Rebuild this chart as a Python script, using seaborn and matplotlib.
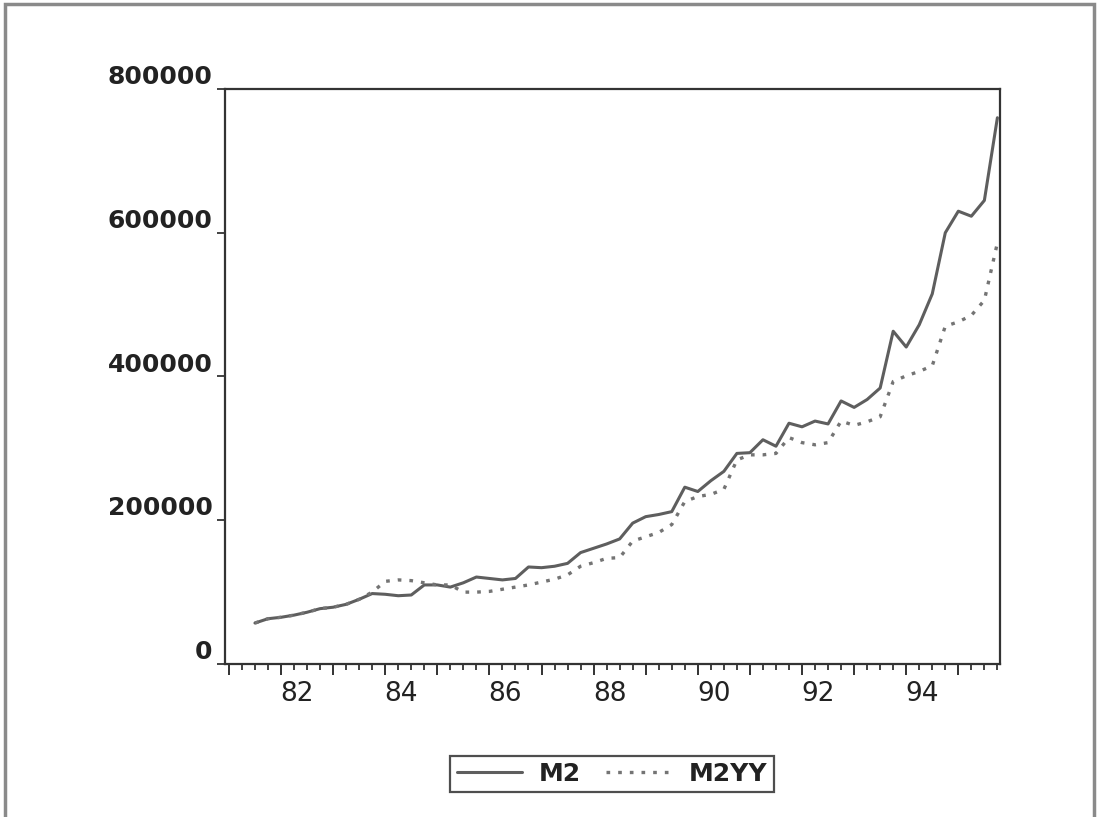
import numpy as np
import pandas as pd
import matplotlib
matplotlib.use("Agg")
import matplotlib.pyplot as plt
import matplotlib.transforms as mtransforms
from matplotlib.patches import Rectangle
from matplotlib.ticker import MultipleLocator
import seaborn as sns

# quarterly observations, 1981Q3 .. 1995Q4
start_year = 1981
start_q = 3
m2 = [57000, 63000, 65000, 68000, 72000, 77000, 79000, 83000,
      90000, 98000, 97000, 95000, 96000, 110000, 110000, 107000,
      113000, 121000, 119000, 117000, 119000, 135000, 134000, 136000,
      140000, 155000, 161000, 167000, 174000, 196000, 205000, 208000,
      212000, 246000, 240000, 255000, 268000, 293000, 294000, 312000,
      303000, 335000, 330000, 338000, 334000, 366000, 357000, 368000,
      384000, 463000, 441000, 472000, 515000, 600000, 630000, 623000,
      645000, 760000]
m2yy = [57000, 63000, 65000, 68000, 72000, 77000, 79000, 83000,
        90000, 100000, 115000, 117000, 116000, 113000, 110000, 110000,
        100000, 100000, 101000, 104000, 107000, 110000, 114000, 118000,
        124000, 136000, 141000, 147000, 148000, 171000, 177000, 183000,
        194000, 226000, 233000, 236000, 243000, 284000, 291000, 291000,
        293000, 315000, 308000, 305000, 308000, 338000, 332000, 337000,
        344000, 393000, 401000, 407000, 415000, 470000, 476000, 485000,
        506000, 586000]
year_labels = ["82", "84", "86", "88", "90", "92", "94"]
y_ticks = [0, 200000, 400000, 600000, 800000]

n = len(m2)
t = [start_year + (start_q - 1 + i) / 4.0 for i in range(n)]
df = pd.DataFrame({"t": t, "M2": m2, "M2YY": m2yy})

sns.set_style("ticks")
plt.rcParams["font.family"] = ["DejaVu Sans"]

fig = plt.figure(figsize=(10.99, 8.17), dpi=100)
ax = fig.add_axes([225/1099, 1 - 664/817, 775/1099, 575/817])

sns.lineplot(data=df, x="t", y="M2", ax=ax, color="#5e5e5e", linewidth=2.2, label="M2")
sns.lineplot(data=df, x="t", y="M2YY", ax=ax, color="#747474", linewidth=2.4,
             linestyle=(0, (1.1, 2.4)), label="M2YY")

ax.set_xlim(1980.925, 1995.80)
ax.set_ylim(0, 800000)
ax.set_xlabel("")
ax.set_ylabel("")

# year ticks (long) and quarter ticks (short)
years = list(range(1981, 1996))
ax.set_xticks(years)
ax.set_xticklabels([str(y)[2:] if str(y)[2:] in year_labels else "" for y in years], fontsize=19)
ax.xaxis.set_minor_locator(MultipleLocator(0.25))
ax.tick_params(axis="x", which="major", length=8, width=1.3, direction="out", pad=4, colors="#222222")
ax.tick_params(axis="x", which="minor", length=4, width=1.2, direction="out", colors="#222222")
shift = mtransforms.ScaledTranslation(0.16, 0, fig.dpi_scale_trans)
for lab in ax.get_xticklabels():
    lab.set_transform(lab.get_transform() + shift)

ax.set_yticks(y_ticks)
ax.set_yticklabels([str(v) for v in y_ticks], fontsize=18, fontweight="bold")
ax.tick_params(axis="y", length=6, width=1.2, direction="out", pad=3, colors="#222222")
for lab in ax.get_yticklabels():
    lab.set_verticalalignment("bottom")

for s in ax.spines.values():
    s.set_visible(True)
    s.set_linewidth(1.6)
    s.set_color("#333333")

leg = ax.legend(loc="center", bbox_to_anchor=(612/1099, 1 - 774/817),
                bbox_transform=fig.transFigure, ncol=2, frameon=True,
                fancybox=False, fontsize=18, handlelength=2.6,
                columnspacing=1.0, handletextpad=0.7, borderpad=0.25)
leg.get_frame().set_edgecolor("#222222")
leg.get_frame().set_linewidth(1.6)
for txt in leg.get_texts():
    txt.set_fontweight("bold")
    txt.set_color("#222222")

# scanned page border
fig.patches.append(Rectangle((0.005, -0.01), 0.99, 1.005, transform=fig.transFigure,
                             fill=False, edgecolor="#8a8a8a", linewidth=2.5))

fig.savefig("out.png", dpi=100)
